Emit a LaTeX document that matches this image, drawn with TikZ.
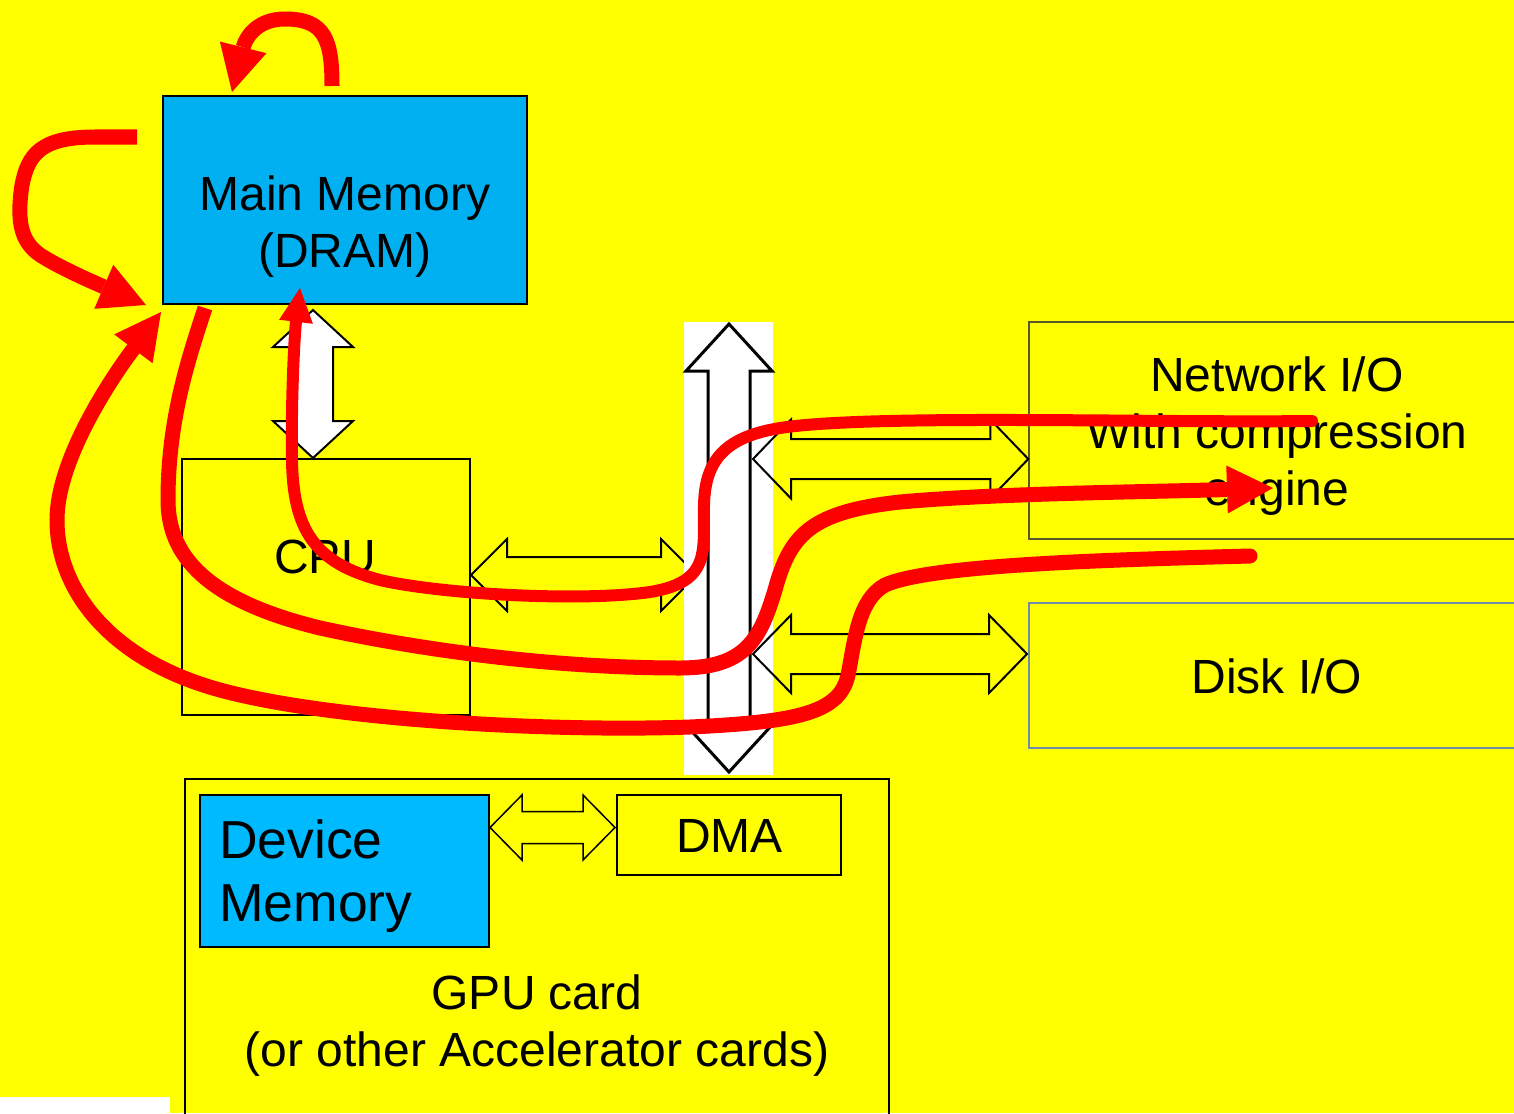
\documentclass[tikz,border=0pt]{standalone}
\usepackage{fontspec}
\setmainfont{Liberation Sans}
\usetikzlibrary{arrows.meta,calc}
\definecolor{bgyellow}{RGB}{255,255,0}
\definecolor{mmblue}{RGB}{0,176,240}
\definecolor{dmblue}{RGB}{0,186,255}
\definecolor{netborder}{RGB}{90,90,40}
\definecolor{diskborder}{RGB}{110,140,170}
% horizontal double block arrow: #1 style, #2 left tip, #3 right tip, #4 head length, #5 head half width, #6 shaft half width
\newcommand\hblock[6]{%
  \draw[#1] let \p1=#2, \p2=#3 in
    (\x1,\y1) -- (\x1+#4pt,\y1+#5pt) -- (\x1+#4pt,\y1+#6pt) -- (\x2-#4pt,\y1+#6pt)
    -- (\x2-#4pt,\y1+#5pt) -- (\x2,\y1) -- (\x2-#4pt,\y1-#5pt) -- (\x2-#4pt,\y1-#6pt)
    -- (\x1+#4pt,\y1-#6pt) -- (\x1+#4pt,\y1-#5pt) -- cycle;}
% vertical double block arrow: #2 top tip, #3 bottom tip
\newcommand\vblock[6]{%
  \draw[#1] let \p1=#2, \p2=#3 in
    (\x1,\y1) -- (\x1+#5pt,\y1-#4pt) -- (\x1+#6pt,\y1-#4pt) -- (\x1+#6pt,\y2+#4pt)
    -- (\x1+#5pt,\y2+#4pt) -- (\x1,\y2) -- (\x1-#5pt,\y2+#4pt) -- (\x1-#6pt,\y2+#4pt)
    -- (\x1-#6pt,\y1-#4pt) -- (\x1-#5pt,\y1-#4pt) -- cycle;}
\begin{document}
\begin{tikzpicture}[x=1pt,y=-1pt,
  box/.style={draw=black, line width=2pt, inner sep=0pt},
  txt/.style={inner sep=0pt, align=center, font=\fontsize{48pt}{57pt}\selectfont},
  blockline/.style={draw=black, line width=2pt, line join=miter},
  redline/.style={draw=red, line width=15pt},
  bighead/.style={-{Triangle[length=46pt,width=48pt,line width=0pt]}},
  smallhead/.style={-{Triangle[length=34pt,width=34pt,line width=0pt]}}]
\useasboundingbox (0,0) rectangle (1514,1113);
\fill[bgyellow] (0,0) rectangle (1514,1113);
\fill[white] (0,1097) rectangle (170,1113);
\begin{scope}
\clip (0,0) rectangle (1514,1113);
% boxes
\node[box, fill=mmblue, minimum width=364pt, minimum height=208pt] (mm) at (345,200) {};
\node[box, minimum width=288pt, minimum height=256pt] (cpu) at (326,587) {};
\node[draw=netborder, line width=1.5pt, inner sep=0pt, minimum width=496pt, minimum height=217pt] (net) at (1277,430.5) {};
\node[draw=diskborder, line width=1.5pt, inner sep=0pt, minimum width=496pt, minimum height=145pt] (disk) at (1277,675.5) {};
\node[box, minimum width=704pt, minimum height=351pt] (gpu) at (537,954.5) {};
\node[box, fill=dmblue, minimum width=289pt, minimum height=152pt] (dev) at (344.5,871) {};
\node[box, minimum width=224pt, minimum height=80pt] (dma) at (729,835) {};
% block arrow end points
\coordinate (mcT) at (313,310);
\coordinate (mcB) at (313,458);
\coordinate (cbL) at (cpu.east |- 0,575);
\coordinate (cbR) at (697,575);
\coordinate (busT) at (729,324);
\coordinate (busB) at (729,772);
\coordinate (nbL) at (753,459);
\coordinate (nbR) at (net.west |- 0,459);
\coordinate (dbL) at (753,654);
\coordinate (dbR) at (1027,654);
\coordinate (ddL) at (dev.east |- 0,827.5);
\coordinate (ddR) at (615,827.5);
% block arrows
\vblock{blockline, fill=white}{(mcT)}{(mcB)}{37}{40}{20}
\hblock{blockline}{(cbL)}{(cbR)}{36}{36}{18}
\hblock{blockline, line width=1.5pt}{(ddL)}{(ddR)}{32}{32.5}{16}
\fill[white] (684,322) rectangle (773,775);
\vblock{blockline, line width=3pt, fill=white}{(busT)}{(busB)}{47}{43}{21}
\hblock{blockline}{(nbL)}{(nbR)}{38}{39.5}{20}
\hblock{blockline}{(dbL)}{(dbR)}{38}{39}{20}
\end{scope}
% labels
\node[txt] (mmlabel) at (345,227) {Main Memory\\(DRAM)};
\node[txt, anchor=base] (cpulabel) at (325,573) {CPU};
\node[txt] (netlabel) at (1277,436) {Network I/O\\With compression\\engine};
\node[txt, anchor=base] (disklabel) at (1277,693) {Disk I/O};
\node[txt, anchor=base] (dmalabel) at (729.5,852) {DMA};
\node[inner sep=0pt, align=left, anchor=west, font=\fontsize{53.5pt}{63pt}\selectfont] (devlabel) at (219,876) {Device\\Memory};
\node[txt] (gpulabel) at (537,1026) {GPU card\\(or other Accelerator cards)};
% red flow curves
\coordinate (loopS) at (332,86);
\coordinate (loopE) at (232,92);
\coordinate (leftS) at (137,137);
\coordinate (leftE) at (146,305);
\coordinate (aS) at (1312,421);
\coordinate (aE) at (300,288);
\coordinate (bS) at (205,308);
\coordinate (bE) at (1273,488);
\coordinate (cS) at (1250,556);
\coordinate (cE) at (161,312);
\draw[redline, bighead] (loopS) .. controls (332,40) and (325,19) .. (285,19)
  .. controls (255,19) and (245,40) .. (loopE);
\draw[redline, bighead] (leftS) -- (95,137) .. controls (40,137) and (28,155) .. (22,185)
  .. controls (16,225) and (22,245) .. (45,258) .. controls (65,270) and (95,283) .. (leftE);
\draw[redline, line width=12pt, line cap=round, smallhead] (aS) .. controls (1150,423) and (870,414) .. (780,428)
  .. controls (725,437) and (705,460) .. (704,505) .. controls (703,550) and (712,582) .. (650,592)
  .. controls (580,602) and (440,594) .. (380,580) .. controls (315,563) and (293,530) .. (292,460)
  .. controls (291,390) and (295,330) .. (aE);
\draw[redline, bighead] (bS) .. controls (188,360) and (168,420) .. (168,500)
  .. controls (168,555) and (205,600) .. (320,628) .. controls (430,652) and (560,668) .. (680,668)
  .. controls (745,668) and (760,640) .. (775,590) .. controls (790,535) and (810,512) .. (900,502)
  .. controls (1000,493) and (1150,492) .. (bE);
\draw[redline, line cap=round, bighead] (cS) .. controls (1100,560) and (930,565) .. (885,585)
  .. controls (858,600) and (855,640) .. (848,675) .. controls (840,712) and (800,722) .. (690,727)
  .. controls (550,732) and (330,720) .. (220,690) .. controls (110,660) and (57,590) .. (57,520)
  .. controls (57,460) and (110,380) .. (cE);
\end{tikzpicture}
\end{document}
